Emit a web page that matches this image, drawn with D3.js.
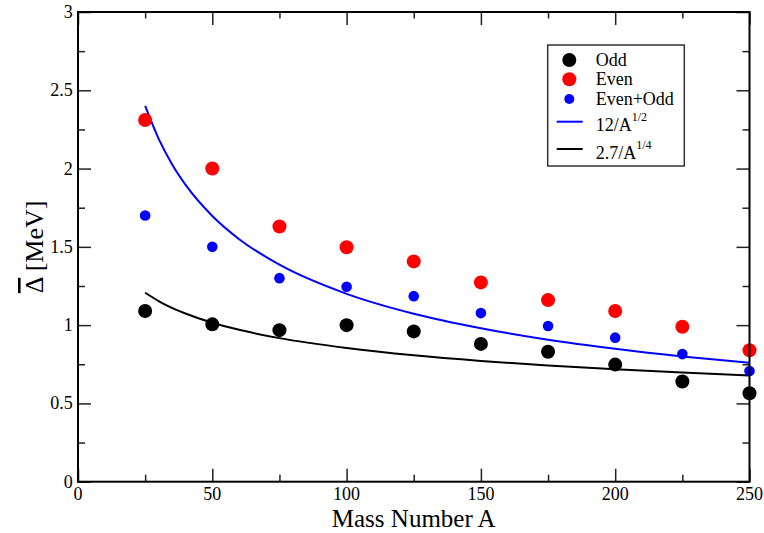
<!DOCTYPE html>
<html><head><meta charset="utf-8">
<script src="https://cdn.jsdelivr.net/npm/d3@7"></script>
<style>body{margin:0;background:#fff}svg{display:block}text{font-family:"Liberation Serif","Times New Roman",serif}</style>
</head><body><svg id="c" width="764" height="533"></svg>
<script>
const massA = [25, 50, 75, 100, 125, 150, 175, 200, 225, 250];
const oddVals = [1.09, 1.005, 0.968, 1.0, 0.96, 0.88, 0.83, 0.748, 0.64, 0.565];
const evenVals = [2.31, 2.0, 1.63, 1.497, 1.407, 1.273, 1.16, 1.09, 0.99, 0.84];
const evenOddVals = [1.70, 1.50, 1.30, 1.245, 1.185, 1.077, 0.994, 0.92, 0.815, 0.707];
const curveA = [25, 30, 35, 40, 50, 60, 75, 100, 125, 150, 175, 200, 225, 250];
const fitSqrt = [2.4, 2.191, 2.028, 1.897, 1.697, 1.549, 1.386, 1.2, 1.073, 0.98, 0.907, 0.849, 0.8, 0.759];
const fitQuart = [1.207, 1.154, 1.110, 1.074, 1.015, 0.970, 0.917, 0.854, 0.807, 0.771, 0.742, 0.718, 0.697, 0.679];
const xTicks = [0, 50, 100, 150, 200, 250];
const yTicks = [0, 0.5, 1, 1.5, 2, 2.5, 3];
const legendLabels = ["Odd", "Even", "Even+Odd", "12/A", "2.7/A"];
const legendSups = ["", "", "", "1/2", "1/4"];

const svg = d3.select("#c");
const L = 78, R = 749.5, T = 12, B = 481.7;
const x = d3.scaleLinear().domain([0, 250]).range([L, R]);
const y = d3.scaleLinear().domain([0, 3]).range([B, T]);

// curves
const line = d3.line().curve(d3.curveMonotoneX).x(d => x(d[0])).y(d => y(d[1]));
svg.append("path").datum(curveA.map((a, i) => [a, fitSqrt[i]]))
  .attr("d", line).attr("fill", "none").attr("stroke", "#0000ff").attr("stroke-width", 2);
svg.append("path").datum(curveA.map((a, i) => [a, fitQuart[i]]))
  .attr("d", line).attr("fill", "none").attr("stroke", "#000").attr("stroke-width", 2);

// points
function pts(vals, color, r) {
  svg.append("g").selectAll("circle").data(massA.map((a, i) => [a, vals[i]])).join("circle")
    .attr("cx", d => x(d[0])).attr("cy", d => y(d[1])).attr("r", r).attr("fill", color);
}
pts(oddVals, "#000", 7);
pts(evenVals, "#ff0000", 7);
pts(evenOddVals, "#0000ff", 5.3);

// axes with inward ticks on all four sides
const tickCol = "#222";
const xMinor = d3.range(0, 251, 25).filter(v => v % 50 !== 0);
const yMinor = d3.range(0.25, 3, 0.5);
function ax(axis, tr) {
  const g = svg.append("g").attr("transform", tr).call(axis);
  g.select(".domain").remove();
  g.selectAll("line").attr("stroke", tickCol).attr("stroke-width", 1.5);
  g.selectAll("text").remove();
  return g;
}
ax(d3.axisBottom(x).tickValues(xTicks).tickSize(-13), `translate(0,${B})`);
ax(d3.axisBottom(x).tickValues(xMinor).tickSize(-7), `translate(0,${B})`);
ax(d3.axisTop(x).tickValues(xTicks).tickSize(-13), `translate(0,${T})`);
ax(d3.axisTop(x).tickValues(xMinor).tickSize(-6.5), `translate(0,${T})`);
ax(d3.axisLeft(y).tickValues(yTicks).tickSize(-13), `translate(${L},0)`);
ax(d3.axisLeft(y).tickValues(yMinor).tickSize(-7), `translate(${L},0)`);
ax(d3.axisRight(y).tickValues(yTicks).tickSize(-13), `translate(${R},0)`);
ax(d3.axisRight(y).tickValues(yMinor).tickSize(-7), `translate(${R},0)`);

svg.append("rect").attr("x", L).attr("y", T).attr("width", R - L).attr("height", B - T)
  .attr("fill", "none").attr("stroke", "#000").attr("stroke-width", 2);

// tick labels
svg.append("g").selectAll("text").data(xTicks).join("text")
  .attr("x", d => x(d)).attr("y", 499.5).attr("text-anchor", "middle")
  .attr("font-size", 18).text(d => d);
svg.append("g").selectAll("text").data(yTicks).join("text")
  .attr("x", 72.7).attr("y", d => y(d) + 6).attr("text-anchor", "end")
  .attr("font-size", 18).text(d => d);

// titles
svg.append("text").attr("x", (L + R) / 2).attr("y", 526.5).attr("text-anchor", "middle")
  .attr("font-size", 25).text("Mass Number A");
const yt = svg.append("text").attr("transform", `translate(43,${(T + B) / 2}) rotate(-90)`)
  .attr("text-anchor", "middle").attr("font-size", 26);
yt.append("tspan").style("text-decoration", "overline").text("\u0394");
yt.append("tspan").text(" [MeV]");

// legend
const lg = svg.append("g");
lg.append("rect").attr("x", 547.7).attr("y", 45).attr("width", 136.6).attr("height", 121)
  .attr("fill", "#fff").attr("stroke", "#333").attr("stroke-width", 1.5);
const ly = [60, 79.3, 99, 121.7, 149];
const lcol = ["#000", "#ff0000", "#0000ff", "#0000ff", "#000"];
[7, 7, 5].forEach((r, i) => lg.append("circle").attr("cx", 569.3).attr("cy", ly[i]).attr("r", r).attr("fill", lcol[i]));
[3, 4].forEach(i => lg.append("line").attr("x1", 556.7).attr("x2", 582.7).attr("y1", ly[i]).attr("y2", ly[i])
  .attr("stroke", lcol[i]).attr("stroke-width", 2));
legendLabels.forEach((t, i) => {
  const tx = lg.append("text").attr("x", 595.7).attr("y", i < 3 ? ly[i] + 6 : ly[i] + 9.5).attr("font-size", 18);
  tx.append("tspan").text(t);
  if (legendSups[i]) tx.append("tspan").attr("font-size", 12).attr("dy", -10).text(legendSups[i]);
});
</script></body></html>
